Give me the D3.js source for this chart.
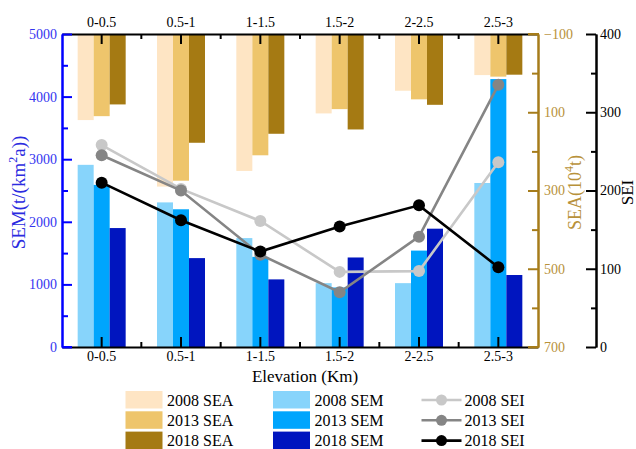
<!DOCTYPE html>
<html>
<head>
<meta charset="utf-8">
<script src="https://cdn.jsdelivr.net/npm/d3@7/dist/d3.min.js"></script>
<style>
  html, body { margin: 0; padding: 0; background: #fff; }
  svg { display: block; }
  svg text { font-family: 'Liberation Serif', 'Times New Roman', Times, serif; }
</style>
</head>
<body>
<svg id="chart" width="636" height="449"></svg>
<script>
// Elevation bands
const categories = ["0-0.5", "0.5-1", "1-1.5", "1.5-2", "2-2.5", "2.5-3"];

// SEA (10^4 t), drawn downward from the top of the plot
const sea2008 = [120, 290, 250, 103, 45, 5];
const sea2013 = [110, 275, 210, 92, 67, 9];
const sea2018 = [80, 178, 155, 144, 81, 4];

// SEM (t/(km^2 a))
const sem2008 = [2910, 2310, 1740, 1020, 1020, 2620];
const sem2013 = [2590, 2200, 1440, 950, 1540, 4280];
const sem2018 = [1900, 1420, 1080, 1430, 1890, 1150];

// SEI
const sei2008 = [258, 202, 161, 96, 97, 236];
const sei2013 = [245, 200, 118, 70, 141, 335];
const sei2018 = [210, 162, 122, 154, 181, 102];

// Axis ticks
const semMajor = [0, 1000, 2000, 3000, 4000, 5000];
const semMinor = [500, 1500, 2500, 3500, 4500];
const seaMajor = [-100, 100, 300, 500, 700];
const seaMinor = [0, 200, 400, 600];
const seiMajor = [0, 100, 200, 300, 400];
const seiMinor = [50, 150, 250, 350];

const colors = {
  sea: ["#fee5c4", "#eec56c", "#a57a13"],
  sem: ["#87d4fb", "#00a5fd", "#0015bf"],
  sei: ["#c8c8c8", "#858585", "#000000"]
};
const BLUE = "#0000ff", BLUE_TXT = "#3535f0", GOLD = "#a67c1a", GOLD_TXT = "#b8913a";
const SERIF = "'Liberation Serif', 'Times New Roman', Times, serif";

const svg = d3.select("#chart").attr("font-family", SERIF);
const L = 62, R = 538, T = 34, B = 347;

const x = d3.scaleBand().domain(categories).range([L, R]).padding(0);
const ySem = d3.scaleLinear().domain([0, 5000]).range([B, T]);
const ySea = d3.scaleLinear().domain([-100, 700]).range([T, B]);
const ySei = d3.scaleLinear().domain([0, 400]).range([B, T]);

const barW = 16;
const offsets = [-24, -8, 8];
const cx = c => x(c) + x.bandwidth() / 2;

// SEA bars hanging from the top
[sea2008, sea2013, sea2018].forEach((vals, k) => {
  svg.append("g").selectAll("rect").data(vals).join("rect")
    .attr("x", (d, i) => cx(categories[i]) + offsets[k])
    .attr("y", ySea(-100))
    .attr("width", barW)
    .attr("height", d => ySea(d) - ySea(-100))
    .attr("fill", colors.sea[k]);
});

// SEM bars rising from the bottom
[sem2008, sem2013, sem2018].forEach((vals, k) => {
  svg.append("g").selectAll("rect").data(vals).join("rect")
    .attr("x", (d, i) => cx(categories[i]) + offsets[k])
    .attr("y", d => ySem(d))
    .attr("width", barW)
    .attr("height", d => ySem(0) - ySem(d))
    .attr("fill", colors.sem[k]);
});

// SEI lines with markers
const line = d3.line().x((d, i) => cx(categories[i])).y(d => ySei(d));
[sei2008, sei2013, sei2018].forEach((vals, k) => {
  const g = svg.append("g");
  g.append("path").attr("d", line(vals)).attr("fill", "none")
    .attr("stroke", colors.sei[k]).attr("stroke-width", 2.6);
  g.selectAll("circle").data(vals).join("circle")
    .attr("cx", (d, i) => cx(categories[i])).attr("cy", d => ySei(d))
    .attr("r", 6).attr("fill", colors.sei[k]);
});

// Axis helper: restyle lines and labels
function styleAxis(g, color, txtColor, size) {
  g.attr("font-family", SERIF).attr("font-size", size);
  g.select(".domain").attr("stroke", color).attr("stroke-width", 2);
  g.selectAll(".tick line").attr("stroke", color).attr("stroke-width", 2);
  g.selectAll(".tick text").attr("fill", txtColor).attr("font-family", SERIF);
}
const fmt = d3.format("d");

// Top and bottom category axes
const xTop = svg.append("g").attr("transform", `translate(0,${T})`)
  .call(d3.axisTop(x).tickSize(-10).tickSizeOuter(0).tickPadding(7));
styleAxis(xTop, "#000", "#000", 14);
const xBot = svg.append("g").attr("transform", `translate(0,${B})`)
  .call(d3.axisBottom(x).tickSize(-10).tickSizeOuter(0).tickPadding(4));
styleAxis(xBot, "#000", "#000", 14);
// minor ticks at the band boundaries
categories.slice(0, -1).forEach(c => {
  const bx = x(c) + x.bandwidth();
  svg.append("line").attr("x1", bx).attr("x2", bx).attr("y1", T).attr("y2", T + 5)
    .attr("stroke", "#000").attr("stroke-width", 2);
  svg.append("line").attr("x1", bx).attr("x2", bx).attr("y1", B).attr("y2", B - 5)
    .attr("stroke", "#000").attr("stroke-width", 2);
});

// Left SEM axis
const gSemMinor = svg.append("g").attr("transform", `translate(${L},0)`)
  .call(d3.axisLeft(ySem).tickValues(semMinor).tickFormat("").tickSize(-6).tickSizeOuter(0));
styleAxis(gSemMinor, BLUE, BLUE_TXT, 14);
const gSem = svg.append("g").attr("transform", `translate(${L},0)`)
  .call(d3.axisLeft(ySem).tickValues(semMajor).tickFormat(fmt).tickSize(-10).tickSizeOuter(0).tickPadding(5));
styleAxis(gSem, BLUE, BLUE_TXT, 14);
svg.append("line").attr("x1", L).attr("x2", L + 10).attr("y1", B).attr("y2", B)
  .attr("stroke", BLUE).attr("stroke-width", 2);

// Right SEA axis (reversed)
const gSeaMinor = svg.append("g").attr("transform", `translate(${R},0)`)
  .call(d3.axisRight(ySea).tickValues(seaMinor).tickFormat("").tickSize(-6).tickSizeOuter(0));
styleAxis(gSeaMinor, GOLD, GOLD_TXT, 14);
const gSea = svg.append("g").attr("transform", `translate(${R},0)`)
  .call(d3.axisRight(ySea).tickValues(seaMajor).tickFormat(fmt).tickSize(-10).tickSizeOuter(0).tickPadding(6));
styleAxis(gSea, GOLD, GOLD_TXT, 14);
[T, B].forEach(yy => svg.append("line").attr("x1", R - 10).attr("x2", R + 1)
  .attr("y1", yy).attr("y2", yy).attr("stroke", GOLD).attr("stroke-width", 2));

// Outer SEI axis
const SX = 596;
const gSeiMinor = svg.append("g").attr("transform", `translate(${SX},0)`)
  .call(d3.axisRight(ySei).tickValues(seiMinor).tickFormat("").tickSize(-5).tickSizeOuter(0));
styleAxis(gSeiMinor, "#000", "#000", 14);
const gSei = svg.append("g").attr("transform", `translate(${SX},0)`)
  .call(d3.axisRight(ySei).tickValues(seiMajor).tickFormat(fmt).tickSize(-10).tickSizeOuter(0).tickPadding(4));
styleAxis(gSei, "#000", "#000", 14);

// Axis titles
const semTitle = svg.append("text")
  .attr("transform", `translate(25,${(T + B) / 2 + 2}) rotate(-90)`)
  .attr("text-anchor", "middle").attr("fill", "#2b2be0").attr("font-size", 19);
semTitle.append("tspan").text("SEM(t/(km");
semTitle.append("tspan").text("2").attr("dy", -8).attr("font-size", 12);
semTitle.append("tspan").text("a))").attr("dy", 8);

const seaTitle = svg.append("text")
  .attr("transform", `translate(581,${(T + B) / 2 + 2}) rotate(-90)`)
  .attr("text-anchor", "middle").attr("fill", GOLD_TXT).attr("font-size", 18);
seaTitle.append("tspan").text("SEA(10");
seaTitle.append("tspan").text("4").attr("dy", -8).attr("font-size", 12);
seaTitle.append("tspan").text("t)").attr("dy", 8);

svg.append("text")
  .attr("transform", `translate(633,${(T + B) / 2 + 2}) rotate(-90)`)
  .attr("text-anchor", "middle").attr("fill", "#000").attr("font-size", 17)
  .text("SEI");

svg.append("text").attr("x", 305).attr("y", 382).attr("text-anchor", "middle")
  .attr("font-size", 17).text("Elevation (Km)");

// Legend
const rowsY = [400, 420.3, 440.6];
const seaNames = ["2008 SEA", "2013 SEA", "2018 SEA"];
const semNames = ["2008 SEM", "2013 SEM", "2018 SEM"];
const seiNames = ["2008 SEI", "2013 SEI", "2018 SEI"];
const leg = svg.append("g").attr("font-size", 16);
rowsY.forEach((ry, k) => {
  leg.append("rect").attr("x", 125.5).attr("y", ry - 9).attr("width", 37).attr("height", 17.5)
    .attr("fill", colors.sea[k]);
  leg.append("text").attr("x", 167).attr("y", ry + 5.5).text(seaNames[k]);
  leg.append("rect").attr("x", 273).attr("y", ry - 9).attr("width", 37).attr("height", 17.5)
    .attr("fill", colors.sem[k]);
  leg.append("text").attr("x", 314.5).attr("y", ry + 5.5).text(semNames[k]);
  leg.append("line").attr("x1", 421.5).attr("x2", 461.5).attr("y1", ry).attr("y2", ry)
    .attr("stroke", colors.sei[k]).attr("stroke-width", 2.6);
  leg.append("circle").attr("cx", 441.5).attr("cy", ry).attr("r", 5.5).attr("fill", colors.sei[k]);
  leg.append("text").attr("x", 464.5).attr("y", ry + 5.5).text(seiNames[k]);
});
</script>
</body>
</html>
